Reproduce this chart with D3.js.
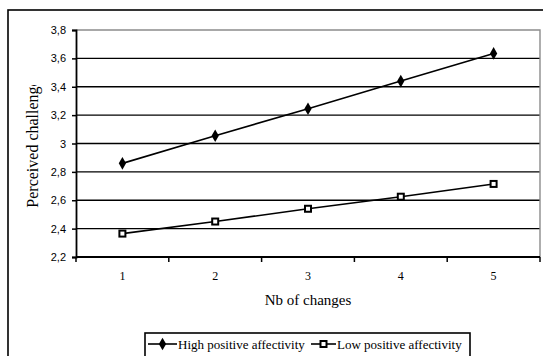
<!DOCTYPE html>
<html>
<head>
<meta charset="utf-8">
<script src="https://cdn.jsdelivr.net/npm/d3@7"></script>
<style>
  html, body { margin: 0; padding: 0; background: #fff; }
  svg { display: block; }
</style>
</head>
<body>
<svg id="chart" width="543" height="356"></svg>
<script>
// Perceived challenge by number of changes, for two affectivity groups
const categories = [1, 2, 3, 4, 5];
const highPA = [2.86, 3.055, 3.245, 3.44, 3.635];
const lowPA = [2.365, 2.45, 2.54, 2.625, 2.715];
const yTicks = [2.2, 2.4, 2.6, 2.8, 3.0, 3.2, 3.4, 3.6, 3.8];
const seriesNames = ["High positive affectivity", "Low positive affectivity"];

const svg = d3.select("#chart");
const serif = "'Liberation Serif', 'Times New Roman', serif";
const sans = "'Liberation Sans', Arial, sans-serif";

const plot = { left: 76, right: 540, top: 30, bottom: 257 };

// Outer chart frame (runs past the right and bottom edges)
svg.append("rect")
  .attr("x", 8).attr("y", 10)
  .attr("width", 560).attr("height", 380)
  .attr("fill", "none").attr("stroke", "#000").attr("stroke-width", 1.6);

const x = d3.scaleBand().domain(categories).range([plot.left, plot.right]).padding(0);
const y = d3.scaleLinear().domain([2.2, 3.8]).range([plot.bottom, plot.top]);

// Horizontal gridlines
svg.append("g").selectAll("line")
  .data(yTicks.slice(1, -1))
  .join("line")
  .attr("x1", plot.left).attr("x2", plot.right)
  .attr("y1", d => y(d)).attr("y2", d => y(d))
  .attr("stroke", "#000").attr("stroke-width", 1.3);

// Plot area border (grey) on top and right
svg.append("path")
  .attr("d", `M${plot.left},${y(3.8)}H${plot.right}V${plot.bottom}`)
  .attr("fill", "none").attr("stroke", "#8c8c8c").attr("stroke-width", 1.4);

// Y axis
const yAxis = svg.append("g")
  .attr("transform", `translate(${plot.left},0)`)
  .call(d3.axisLeft(y).tickValues(yTicks).tickSize(4).tickPadding(6)
    .tickFormat(d => d3.format(".1f")(d).replace(".", ",").replace(",0", "")));
yAxis.select(".domain").attr("stroke", "#000").attr("stroke-width", 1.8);
yAxis.selectAll(".tick line").attr("stroke", "#000").attr("stroke-width", 1.5);
yAxis.selectAll("text").attr("font-family", sans).attr("font-size", 11).attr("fill", "#000");

// X axis: ticks sit between categories
const xAxis = svg.append("g")
  .attr("transform", `translate(0,${plot.bottom})`);
xAxis.append("line")
  .attr("x1", plot.left).attr("x2", plot.right)
  .attr("stroke", "#000").attr("stroke-width", 1.8);
const bounds = categories.map(c => x(c)).concat([x(categories[categories.length - 1]) + x.bandwidth()]);
xAxis.selectAll("line.tk")
  .data(bounds)
  .join("line").attr("class", "tk")
  .attr("x1", d => d).attr("x2", d => d)
  .attr("y1", 0).attr("y2", 5)
  .attr("stroke", "#000").attr("stroke-width", 1.5);
xAxis.selectAll("text")
  .data(categories)
  .join("text")
  .attr("x", d => x(d) + x.bandwidth() / 2)
  .attr("y", 23)
  .attr("text-anchor", "middle")
  .attr("font-family", serif).attr("font-size", 12)
  .text(d => d);

// Axis titles
svg.append("text")
  .attr("x", (plot.left + plot.right) / 2).attr("y", 305)
  .attr("text-anchor", "middle")
  .attr("font-family", serif).attr("font-size", 15)
  .text("Nb of changes");

svg.append("clipPath").attr("id", "ytitle-clip")
  .append("rect").attr("x", 0).attr("y", 85).attr("width", 70).attr("height", 200);
svg.append("g").attr("clip-path", "url(#ytitle-clip)")
  .append("text")
  .attr("transform", `translate(38,${(plot.top + plot.bottom) / 2}) rotate(-90)`)
  .attr("text-anchor", "middle")
  .attr("font-family", serif).attr("font-size", 16)
  .text("Perceived challenge");

// Series lines and markers
const line = d3.line().x((d, i) => x(categories[i]) + x.bandwidth() / 2).y(d => y(d));
const diamond = d3.symbol().type(d3.symbolDiamond).size(46);

svg.append("path").datum(highPA)
  .attr("d", line).attr("fill", "none").attr("stroke", "#000").attr("stroke-width", 1.6);
svg.append("path").datum(lowPA)
  .attr("d", line).attr("fill", "none").attr("stroke", "#000").attr("stroke-width", 1.6);

svg.append("g").selectAll("path")
  .data(highPA)
  .join("path")
  .attr("transform", (d, i) => `translate(${x(categories[i]) + x.bandwidth() / 2},${y(d)})`)
  .attr("d", diamond).attr("fill", "#000");

svg.append("g").selectAll("rect")
  .data(lowPA)
  .join("rect")
  .attr("x", (d, i) => x(categories[i]) + x.bandwidth() / 2 - 3)
  .attr("y", d => y(d) - 3)
  .attr("width", 6).attr("height", 6)
  .attr("fill", "#fff").attr("stroke", "#000").attr("stroke-width", 2);

// Legend
const legend = svg.append("g");
legend.append("rect")
  .attr("x", 145).attr("y", 333).attr("width", 325).attr("height", 40)
  .attr("fill", "#fff").attr("stroke", "#000").attr("stroke-width", 1.6);

const legendItems = [
  { name: seriesNames[0], x0: 148, x1: 177, marker: "diamond" },
  { name: seriesNames[1], x0: 311, x1: 336, marker: "square" }
];
legendItems.forEach(it => {
  const ly = 344;
  legend.append("line")
    .attr("x1", it.x0).attr("x2", it.x1).attr("y1", ly).attr("y2", ly)
    .attr("stroke", "#000").attr("stroke-width", 1.6);
  const cx = (it.x0 + it.x1) / 2;
  if (it.marker === "diamond") {
    legend.append("path").attr("transform", `translate(${cx},${ly})`)
      .attr("d", diamond).attr("fill", "#000");
  } else {
    legend.append("rect").attr("x", cx - 3).attr("y", ly - 3).attr("width", 6).attr("height", 6)
      .attr("fill", "#fff").attr("stroke", "#000").attr("stroke-width", 2);
  }
  legend.append("text")
    .attr("x", it.x1 + 1).attr("y", ly + 4.5)
    .attr("font-family", serif).attr("font-size", 13)
    .text(it.name);
});
</script>
</body>
</html>
